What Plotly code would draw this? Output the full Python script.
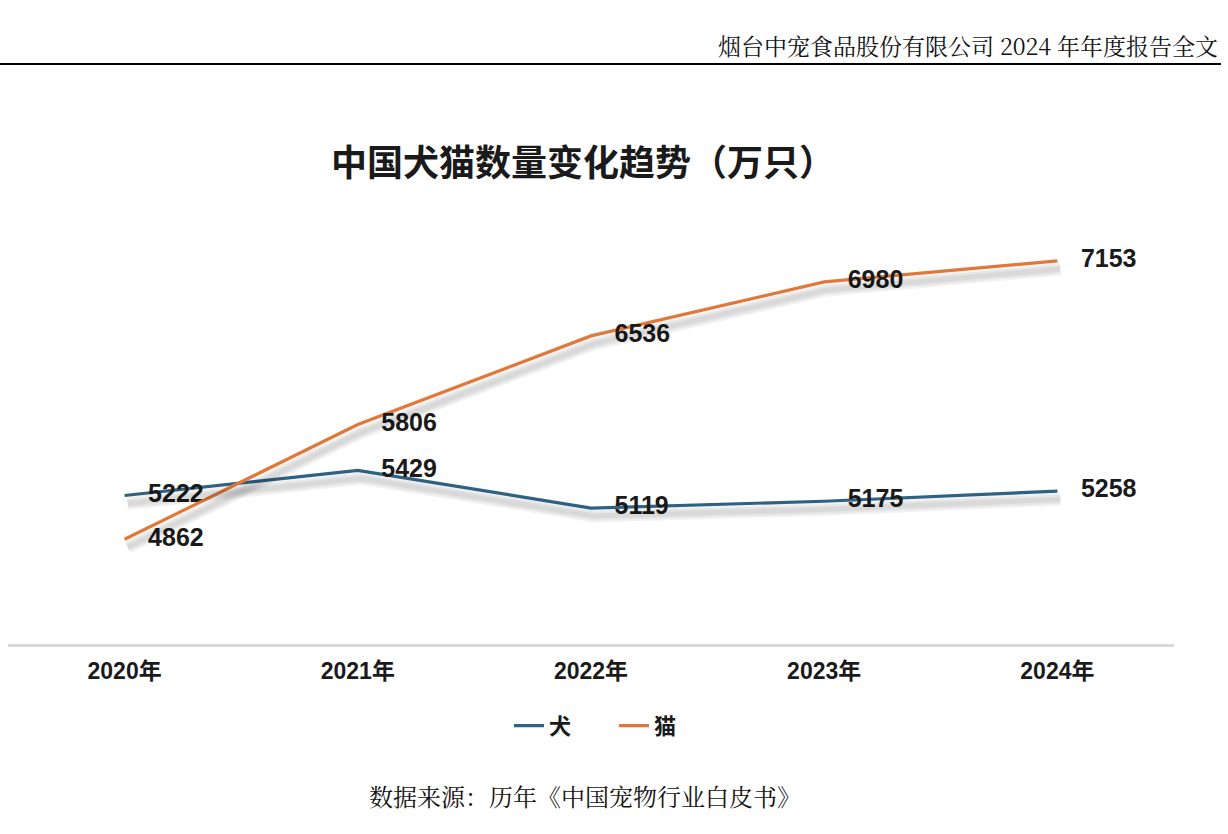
import plotly.graph_objects as go

years = ["2020年", "2021年", "2022年", "2023年", "2024年"]
dogs = [5222, 5429, 5119, 5175, 5258]
cats = [4862, 5806, 6536, 6980, 7153]

DOG_COLOR = "#2E6184"
CAT_COLOR = "#E0783A"
W, H = 1228, 834
L, R, T, B = 8, 54, 158, 190
yr = [4000, 8000]
px_per_unit = (H - T - B) / (yr[1] - yr[0])
cat_px = (W - L - R) / len(years)
dy = 8 / px_per_unit
dx = 3 / cat_px

fig = go.Figure()
# soft shadows (drawn on offset overlay axes)
for vals in (dogs, cats):
    for wd in (13, 9, 5):
        fig.add_trace(go.Scatter(x=list(range(len(years))), y=vals, mode="lines",
                                 line=dict(color="rgba(0,0,0,0.05)", width=wd),
                                 xaxis="x2", yaxis="y2", showlegend=False, hoverinfo="skip"))

label_font = dict(family="Liberation Sans", size=25, color="#1a1a1a", weight="bold")
fig.add_trace(go.Scatter(x=years, y=dogs, name="犬", mode="lines+markers+text",
                         line=dict(color=DOG_COLOR, width=3.2),
                         marker=dict(size=36, color="rgba(0,0,0,0)"),
                         text=[str(v) for v in dogs], textposition="middle right",
                         textfont=label_font, hoverinfo="skip"))
fig.add_trace(go.Scatter(x=years, y=cats, name="猫", mode="lines+markers+text",
                         line=dict(color=CAT_COLOR, width=3.2),
                         marker=dict(size=36, color="rgba(0,0,0,0)"),
                         text=[str(v) for v in cats], textposition="middle right",
                         textfont=label_font, hoverinfo="skip"))

fig.update_layout(
    width=W, height=H,
    margin=dict(l=L, r=R, t=T, b=B),
    plot_bgcolor="white", paper_bgcolor="white",
    font=dict(family="Liberation Sans, Noto Sans CJK SC", color="#1a1a1a"),
    xaxis=dict(type="category", range=[-0.5, 4.5], showgrid=False, zeroline=False,
               showline=True, linecolor="#d9d9d9", linewidth=2.5, ticks="",
               tickfont=dict(family="Liberation Sans, Noto Sans CJK SC", size=23,
                             color="#1a1a1a", weight="bold"),
               ticklabelstandoff=5),
    yaxis=dict(range=yr, visible=False, showgrid=False, zeroline=False),
    xaxis2=dict(range=[-0.5 - dx, 4.5 - dx], overlaying="x", visible=False),
    yaxis2=dict(range=[yr[0] + dy, yr[1] + dy], overlaying="y", visible=False),
    showlegend=True,
    legend=dict(orientation="h", x=(614 - L) / (W - L - R), xanchor="center",
                y=-0.125, yanchor="top", entrywidth=60,
                font=dict(family="Noto Sans CJK SC", size=22, color="#1a1a1a", weight="bold"),
                traceorder="normal", itemclick=False),
)

annotations = [
    dict(text="<b>中国犬猫数量变化趋势（万只）</b>", x=583, y=160,
         font=dict(family="Noto Sans CJK SC", size=36, color="#1a1a1a")),
    dict(text="烟台中宠食品股份有限公司 2024 年年度报告全文", x=1220, y=45, xanchor="right",
         font=dict(family="Noto Serif CJK SC, Noto Sans CJK SC", size=23, color="#111")),
    dict(text="数据来源：历年《中国宠物行业白皮书》", x=585, y=795,
         font=dict(family="Noto Serif CJK SC, Noto Sans CJK SC", size=24, color="#111")),
]
for a in annotations:
    # convert pixel positions to paper coordinates
    a["showarrow"] = False
    a["xref"] = "paper"; a["yref"] = "paper"
    a["x"] = (a["x"] - L) / (W - L - R)
    a["y"] = (H - B - a["y"]) / (H - T - B)
    a["yanchor"] = "middle"
    fig.add_annotation(**a)

fig.add_shape(type="line", xref="paper", yref="paper",
              x0=(0 - L) / (W - L - R), x1=(1221 - L) / (W - L - R),
              y0=(H - B - 64) / (H - T - B), y1=(H - B - 64) / (H - T - B),
              line=dict(color="black", width=2))

fig.write_html("out.html", config={"displayModeBar": False},
               post_script="document.body.style.margin='0';")
